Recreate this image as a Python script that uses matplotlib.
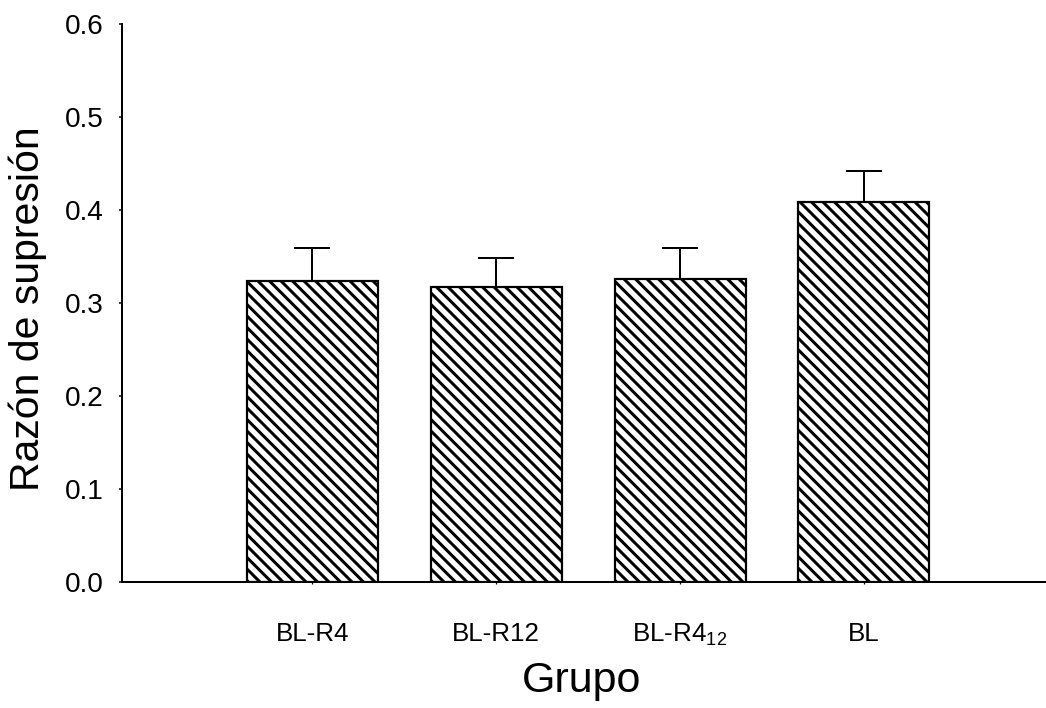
import numpy as np
import matplotlib
matplotlib.use("Agg")
import matplotlib.pyplot as plt

# values
groups = ["BL-R4", "BL-R12", "BL-R4$_{12}$", "BL"]
ratio = [0.324, 0.317, 0.326, 0.409]
sem = [0.035, 0.031, 0.033, 0.033]
yticks = [0.0, 0.1, 0.2, 0.3, 0.4, 0.5, 0.6]

# hatch cell scales with dpi, so dpi sets the stripe spacing
DPI = 138
W, H = 1046, 708


def pt(px):
    """pixels -> points at the figure dpi"""
    return px * 72.0 / DPI


plt.rcParams["font.family"] = ["Liberation Sans", "DejaVu Sans"]
plt.rcParams["mathtext.default"] = "regular"
plt.rcParams["hatch.linewidth"] = pt(3.0)
plt.rcParams["hatch.color"] = "black"

fig = plt.figure(figsize=(W / DPI, H / DPI), dpi=DPI, facecolor="white")
ax = fig.add_axes([122 / W, 1 - 582 / H, (W - 122) / W, (582 - 24) / H])

x = np.arange(len(groups))
ax.bar(x, ratio, width=0.712, facecolor="white", edgecolor="black",
       linewidth=pt(2.2), hatch="\\\\\\\\", zorder=2)
ax.errorbar(x, ratio, yerr=[np.zeros(len(sem)), sem], fmt="none",
            ecolor="black", elinewidth=pt(2.0), capsize=pt(18),
            capthick=pt(2.0), zorder=3)

ax.set_xlim(-1.035, 3.99)
ax.set_ylim(0, 0.6)
ax.set_yticks(yticks)
ax.set_yticklabels([f"{v:.1f}" for v in yticks])
ax.set_xticks(x)
ax.set_xticklabels(groups)

for side in ("top", "right"):
    ax.spines[side].set_visible(False)
for side in ("left", "bottom"):
    ax.spines[side].set_linewidth(pt(2.0))
    ax.spines[side].set_color("black")

ax.tick_params(axis="y", direction="out", length=pt(3), width=pt(1.5),
               labelsize=pt(28), pad=pt(15), colors="black")
ax.tick_params(axis="x", direction="out", length=pt(2), width=pt(1.2),
               labelsize=pt(26), pad=pt(38))

ax.set_ylabel("Razón de supresión", fontsize=pt(41))
ax.yaxis.set_label_coords(-0.081, 0.49)
ax.set_xlabel("Grupo", fontsize=pt(43))
ax.xaxis.set_label_coords(0.497, -0.141)

fig.savefig("out.png", dpi=DPI, facecolor="white")
